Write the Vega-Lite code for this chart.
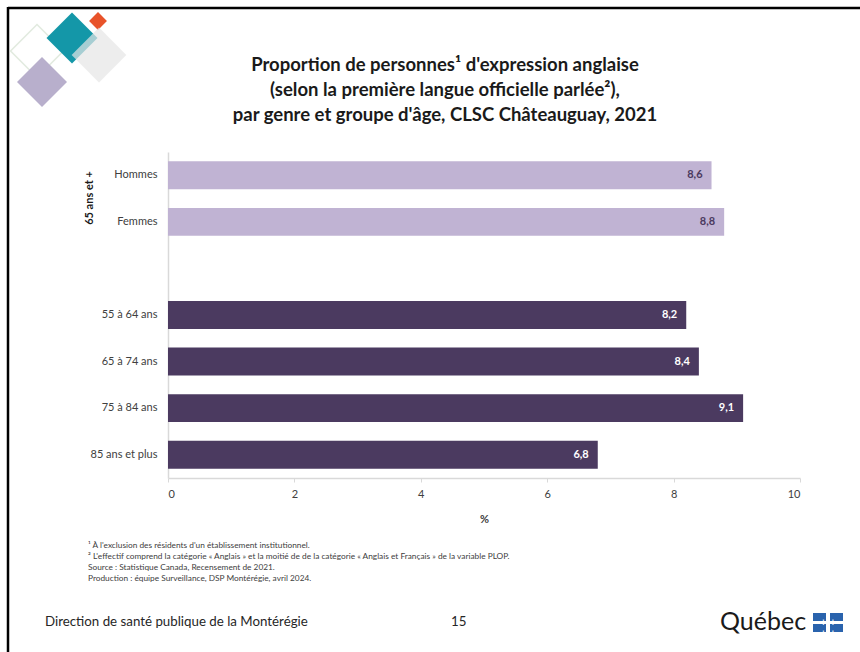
{
  "$schema": "https://vega.github.io/schema/vega-lite/v6.json",
  "autosize": "none",
  "width": 632,
  "height": 326,
  "padding": {"left": 168, "top": 152, "right": 60, "bottom": 174},
  "background": "white",
  "config": {
    "font": "Lato",
    "view": {"stroke": null},
    "locale": {"number": {"decimal": ",", "thousands": " ", "grouping": [3], "currency": ["", " $"]}}
  },
  "title": {
    "text": ["Proportion de personnes¹ d'expression anglaise", "(selon la première langue officielle parlée²),", "par genre et groupe d'âge, CLSC Châteauguay, 2021"],
    "font": "Lato",
    "fontSize": 18.5,
    "fontWeight": "bold",
    "color": "#1a1a1a",
    "lineHeight": 25,
    "anchor": "middle",
    "frame": "group",
    "dx": -39,
    "offset": -119
  },
  "data": {
    "values": [
      {"cat": "Hommes", "grp": "65 ans et +", "pct": 8.6},
      {"cat": "Femmes", "grp": "65 ans et +", "pct": 8.8},
      {"cat": "55 à 64 ans", "grp": "Âge", "pct": 8.2},
      {"cat": "65 à 74 ans", "grp": "Âge", "pct": 8.4},
      {"cat": "75 à 84 ans", "grp": "Âge", "pct": 9.1},
      {"cat": "85 ans et plus", "grp": "Âge", "pct": 6.8}
    ]
  },
  "layer": [
    {
      "data": {"values": [{}]},
      "mark": {"type": "rule", "color": "#000000", "strokeWidth": 2.5},
      "encoding": {"x": {"value": -160}, "x2": {"value": 700}, "y": {"value": -144}, "y2": {"value": -144}}
    },
    {
      "data": {"values": [{}]},
      "mark": {"type": "rule", "color": "#000000", "strokeWidth": 2.5},
      "encoding": {"x": {"value": -160}, "x2": {"value": -160}, "y": {"value": -145}, "y2": {"value": 510}}
    },
    {
      "data": {"values": [{}]},
      "mark": {"type": "point", "shape": "square", "angle": 45, "filled": false, "stroke": "#d6e2d2", "strokeWidth": 1.5, "size": 1400},
      "encoding": {"x": {"value": -131}, "y": {"value": -101}}
    },
    {
      "data": {"values": [{}]},
      "mark": {"type": "point", "shape": "square", "angle": 45, "filled": true, "color": "#b8afcc", "opacity": 1, "size": 1250},
      "encoding": {"x": {"value": -126}, "y": {"value": -70}}
    },
    {
      "data": {"values": [{}]},
      "mark": {"type": "point", "shape": "square", "angle": 45, "filled": true, "color": "#e8532a", "opacity": 1, "size": 160},
      "encoding": {"x": {"value": -70}, "y": {"value": -131}}
    },
    {
      "data": {"values": [{}]},
      "mark": {"type": "point", "shape": "square", "angle": 45, "filled": true, "color": "#1497a8", "opacity": 1, "size": 1300},
      "encoding": {"x": {"value": -96}, "y": {"value": -114}}
    },
    {
      "data": {"values": [{}]},
      "mark": {"type": "point", "shape": "square", "angle": 45, "filled": true, "color": "#e6e6e6", "opacity": 0.7, "size": 1500},
      "encoding": {"x": {"value": -69}, "y": {"value": -97}}
    },
    {
      "mark": {"type": "bar"},
      "encoding": {
        "y": {
          "field": "cat", "type": "nominal",
          "scale": {"domain": ["Hommes", "Femmes", " ", "55 à 64 ans", "65 à 74 ans", "75 à 84 ans", "85 ans et plus"], "paddingInner": 0.4, "paddingOuter": 0.2},
          "axis": {"title": null, "ticks": false, "domainColor": "#d9d9d9", "domainWidth": 1.5, "labelFontSize": 11, "labelColor": "#404040", "labelPadding": 11, "labelFont": "Lato"}
        },
        "x": {
          "field": "pct", "type": "quantitative",
          "scale": {"domain": [0, 10], "nice": false},
          "axis": {"title": "%", "titleFontSize": 11, "titleFontWeight": "bold", "titleColor": "#404040", "titlePadding": 14, "values": [0, 2, 4, 6, 8, 10], "grid": false, "domainColor": "#d9d9d9", "domainWidth": 1.5, "tickColor": "#d9d9d9", "tickSize": 4, "labelFontSize": 11, "labelColor": "#404040", "labelPadding": 6, "format": "d"}
        },
        "color": {
          "field": "grp", "type": "nominal",
          "scale": {"domain": ["65 ans et +", "Âge"], "range": ["#c0b3d3", "#4b3a60"]},
          "legend": null
        }
      }
    },
    {
      "mark": {"type": "text", "align": "right", "baseline": "middle", "dx": -9, "fontSize": 11, "fontWeight": "bold", "font": "Lato"},
      "encoding": {
        "y": {"field": "cat", "type": "nominal"},
        "x": {"field": "pct", "type": "quantitative"},
        "text": {"field": "pct", "type": "quantitative", "format": ".1f"},
        "color": {"condition": {"test": "datum.grp === '65 ans et +'", "value": "#4b3a60"}, "value": "#ffffff"}
      }
    },
    {
      "data": {"values": [{"label": "65 ans et +"}]},
      "mark": {"type": "text", "angle": 270, "align": "center", "baseline": "middle", "fontSize": 11, "fontWeight": "bold", "color": "#1a1a1a", "font": "Lato"},
      "encoding": {
        "text": {"field": "label"},
        "x": {"value": -78},
        "y": {"value": 46}
      }
    },
    {
      "data": {"values": [{}]},
      "mark": {"type": "text", "align": "left", "baseline": "top", "fontSize": 8.3, "lineHeight": 11, "color": "#404040", "font": "Lato",
        "text": ["¹ À l'exclusion des résidents d'un établissement institutionnel.", "² L'effectif comprend la catégorie « Anglais » et la moitié de de la catégorie « Anglais et Français » de la variable PLOP.", "Source : Statistique Canada, Recensement de 2021.", "Production : équipe Surveillance, DSP Montérégie, avril 2024."]},
      "encoding": {
        "x": {"value": -80},
        "y": {"value": 389}
      }
    },
    {
      "data": {"values": [{"t": "Direction de santé publique de la Montérégie"}]},
      "mark": {"type": "text", "align": "left", "baseline": "middle", "fontSize": 13.3, "color": "#262626", "font": "Lato"},
      "encoding": {"text": {"field": "t"}, "x": {"value": -123}, "y": {"value": 470}}
    },
    {
      "data": {"values": [{"t": "15"}]},
      "mark": {"type": "text", "align": "left", "baseline": "middle", "fontSize": 13.3, "color": "#262626", "font": "Lato"},
      "encoding": {"text": {"field": "t"}, "x": {"value": 283}, "y": {"value": 470}}
    },
    {
      "data": {"values": [{"t": "Québec"}]},
      "mark": {"type": "text", "align": "left", "baseline": "middle", "fontSize": 25, "color": "#1a1a1a", "font": "Lato"},
      "encoding": {"text": {"field": "t"}, "x": {"value": 552}, "y": {"value": 470}}
    },
    {
      "data": {"values": [{}]},
      "mark": {"type": "rect", "color": "#2a63ad"},
      "encoding": {"x": {"value": 645}, "x2": {"value": 658}, "y": {"value": 461}, "y2": {"value": 469}}
    },
    {
      "data": {"values": [{}]},
      "mark": {"type": "rect", "color": "#2a63ad"},
      "encoding": {"x": {"value": 662}, "x2": {"value": 675}, "y": {"value": 461}, "y2": {"value": 469}}
    },
    {
      "data": {"values": [{}]},
      "mark": {"type": "rect", "color": "#2a63ad"},
      "encoding": {"x": {"value": 645}, "x2": {"value": 658}, "y": {"value": 472}, "y2": {"value": 480}}
    },
    {
      "data": {"values": [{}]},
      "mark": {"type": "rect", "color": "#2a63ad"},
      "encoding": {"x": {"value": 662}, "x2": {"value": 675}, "y": {"value": 472}, "y2": {"value": 480}}
    },
    {
      "data": {"values": [{}]},
      "mark": {"type": "text", "align": "center", "baseline": "middle", "fontSize": 8, "fontWeight": "bold", "color": "#ffffff", "font": "DejaVu Sans", "text": ["+  +", "+  +"], "lineHeight": 11},
      "encoding": {"x": {"value": 660}, "y": {"value": 470.5}}
    }
  ]
}
